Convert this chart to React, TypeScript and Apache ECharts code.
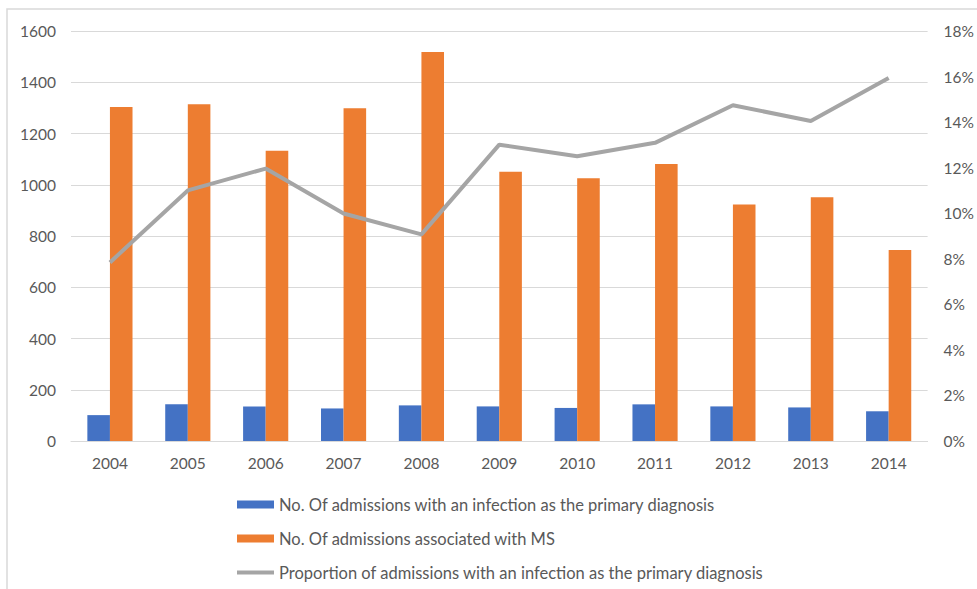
import React, { useEffect, useRef } from "react";
import * as echarts from "echarts";

const years = ["2004", "2005", "2006", "2007", "2008", "2009", "2010", "2011", "2012", "2013", "2014"];
const infectionAdmissions = [101, 143, 135, 127, 139, 135, 129, 143, 135, 131, 116];
const msAdmissions = [1303, 1314, 1133, 1299, 1518, 1051, 1025, 1081, 923, 951, 745];
const proportionPct = [7.84, 11.0, 11.96, 9.99, 9.07, 13.01, 12.5, 13.09, 14.74, 14.05, 15.94];

const seriesNames = [
  "No. Of admissions with an infection as the primary diagnosis",
  "No. Of admissions associated with MS",
  "Proportion of admissions with an infection as the primary diagnosis",
];

const FONT = "Lato, 'Liberation Sans', sans-serif";
const TEXT = "#595959";
const GRID = "#d9d9d9";
const LINE_ICON = "path://M0,0 M0,2 L37,2 L37,6 L0,6 Z M37,8";

export default function App() {
  const ref = useRef<HTMLDivElement>(null);
  useEffect(() => {
    if (!ref.current) return;
    const chart = echarts.init(ref.current, undefined, { renderer: "svg" });
    chart.setOption({
      animation: false,
      backgroundColor: "#ffffff",
      textStyle: { fontFamily: FONT },
      graphic: [
        {
          type: "rect",
          shape: { x: 7, y: 9, width: 1000, height: 700 },
          style: { fill: "none", stroke: GRID, lineWidth: 1.5 },
          silent: true,
          z: -1,
        },
      ],
      grid: { left: 71, right: 48, top: 31, bottom: 148 },
      legend: {
        orient: "vertical",
        left: 237,
        top: 496,
        padding: 0,
        itemWidth: 37,
        itemHeight: 8,
        itemGap: 17,
        textStyle: { color: TEXT, fontSize: 16.5, fontFamily: FONT, lineHeight: 16 },
        data: [
          { name: seriesNames[0], icon: "rect" },
          { name: seriesNames[1], icon: "rect" },
          { name: seriesNames[2], icon: LINE_ICON, itemStyle: { color: "#a5a5a5", borderWidth: 0 } },
        ],
      },
      xAxis: {
        type: "category",
        data: years,
        axisLine: { lineStyle: { color: GRID, width: 1 } },
        axisTick: { show: false },
        axisLabel: { color: TEXT, fontSize: 15.5, margin: 14, fontFamily: FONT },
      },
      yAxis: [
        {
          type: "value",
          min: 0,
          max: 1600,
          interval: 200,
          axisLine: { show: false },
          axisTick: { show: false },
          axisLabel: {
            color: TEXT,
            fontSize: 15.5,
            margin: 15,
            fontFamily: FONT,
            formatter: (v: number) => String(v),
          },
          splitLine: { lineStyle: { color: GRID, width: 1 } },
        },
        {
          type: "value",
          min: 0,
          max: 18,
          interval: 2,
          position: "right",
          axisLine: { show: false },
          axisTick: { show: false },
          axisLabel: { color: TEXT, fontSize: 15.5, margin: 16, fontFamily: FONT, formatter: "{value}%" },
          splitLine: { show: false },
        },
      ],
      series: [
        {
          name: seriesNames[0],
          type: "bar",
          data: infectionAdmissions,
          itemStyle: { color: "#4472c4" },
          barGap: "0%",
          barCategoryGap: "42%",
        },
        {
          name: seriesNames[1],
          type: "bar",
          data: msAdmissions,
          itemStyle: { color: "#ed7d31" },
          barGap: "0%",
          barCategoryGap: "42%",
        },
        {
          name: seriesNames[2],
          type: "line",
          yAxisIndex: 1,
          data: proportionPct,
          symbol: "none",
          lineStyle: { color: "#a5a5a5", width: 4 },
          itemStyle: { color: "#a5a5a5" },
        },
      ],
    });
    return () => chart.dispose();
  }, []);
  return (
    <div
      ref={ref}
      style={{ position: "fixed", left: 0, top: 0, width: 977, height: 589, background: "#fff" }}
    />
  );
}
